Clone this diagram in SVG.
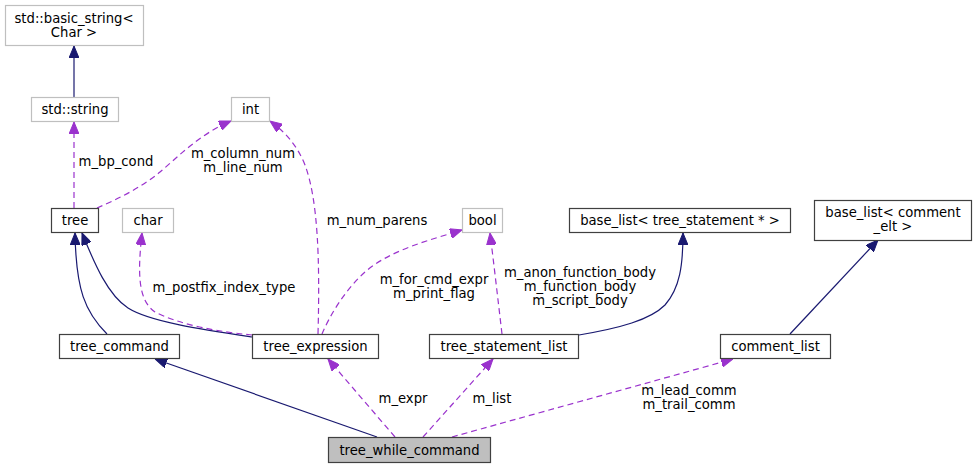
<svg xmlns="http://www.w3.org/2000/svg" width="977" height="469" viewBox="0 0 977 469">
<style>
text { font-family: "DejaVu Sans", "Liberation Sans", sans-serif; font-size: 13.2px; fill: #000; text-anchor: middle; }
.n rect { fill: #fff; stroke: #404040; stroke-width: 1.2; }
.g rect { fill: #fff; stroke: #bfbfbf; stroke-width: 1.2; }
.cur rect { fill: #bfbfbf; stroke: #404040; stroke-width: 1.2; }
.inh { fill: none; stroke: #191970; stroke-width: 1.2; marker-end: url(#ah-blue); }
.use { fill: none; stroke: #9a32cd; stroke-width: 1.2; stroke-dasharray: 6,4; marker-end: url(#ah-purple); }
</style>
<defs>
<marker id="ah-blue" markerUnits="userSpaceOnUse" viewBox="0 0 12 10" refX="12" refY="5" markerWidth="12" markerHeight="10" orient="auto">
<path d="M0,0 L12,5 L0,10 z" fill="#191970" stroke="#191970" stroke-width="1"/>
</marker>
<marker id="ah-purple" markerUnits="userSpaceOnUse" viewBox="0 0 12 10" refX="12" refY="5" markerWidth="12" markerHeight="10" orient="auto">
<path d="M0,0 L12,5 L0,10 z" fill="#9a32cd" stroke="#9a32cd" stroke-width="1"/>
</marker>
</defs>
<rect width="977" height="469" fill="#fff"/>

<g id="edges">
<path class="inh" d="M74,97 L74,46"/>
<path class="use" d="M74,208 L74,122"/>
<path class="use" d="M97,208 C118,199 142,187 160,172 C180,155 200,134 231,121"/>
<path class="use" d="M318,334 C320,260 318,200 305,165 C297,145 285,132 270,121"/>
<path class="use" d="M322,334 C330,315 345,290 365,272 C390,250 430,240 462,230"/>
<path class="inh" d="M252,337 C205,330 150,322 128,308 C108,295 95,265 82,233"/>
<path class="inh" d="M107,334 C85,312 76,290 75,233"/>
<path class="use" d="M252,335 C220,332 180,325 155,312 C137,300 138,270 142,233"/>
<path class="use" d="M502,334 C498,300 494,265 490,233"/>
<path class="inh" d="M579,335 C620,328 650,320 665,305 C680,288 683,265 683,233"/>
<path class="inh" d="M790,334 L878,240"/>
<path class="inh" d="M377,437 L155,359"/>
<path class="use" d="M395,437 L328,359"/>
<path class="use" d="M423,437 L493,359"/>
<path class="use" d="M452,437 C520,418 640,385 733,359"/>
<text x="116" y="165.5">m_bp_cond</text>
<text x="243" y="157.5">m_column_num</text>
<text x="243" y="171.5">m_line_num</text>
<text x="377" y="224.5">m_num_parens</text>
<text x="224" y="291.5">m_postfix_index_type</text>
<text x="434" y="283.5">m_for_cmd_expr</text>
<text x="434" y="297.5">m_print_flag</text>
<text x="580" y="276.5">m_anon_function_body</text>
<text x="580" y="290.5">m_function_body</text>
<text x="580" y="304.5">m_script_body</text>
<text x="403" y="402.5">m_expr</text>
<text x="492" y="402.5">m_list</text>
<text x="689" y="394.5">m_lead_comm</text>
<text x="689" y="408.5">m_trail_comm</text>
</g>

<g id="node-basic_string" class="g"><rect x="5.5" y="5.5" width="138" height="40"/><text x="74" y="22.5">std::basic_string&lt;</text><text x="74" y="36.5">Char &gt;</text></g>
<g id="node-std_string" class="g"><rect x="31.5" y="97.5" width="87" height="24"/><text x="75" y="114">std::string</text></g>
<g id="node-int" class="g"><rect x="231.5" y="97.5" width="38" height="24"/><text x="250.5" y="114">int</text></g>
<g id="node-tree" class="n"><rect x="51.5" y="208.5" width="47" height="24"/><text x="75" y="225">tree</text></g>
<g id="node-char" class="g"><rect x="122.5" y="208.5" width="51" height="24"/><text x="148" y="225">char</text></g>
<g id="node-bool" class="g"><rect x="462.5" y="208.5" width="40" height="24"/><text x="482.5" y="225">bool</text></g>
<g id="node-base_list_stmt" class="n"><rect x="569.5" y="208.5" width="221" height="24"/><text x="680" y="225">base_list&lt; tree_statement * &gt;</text></g>
<g id="node-base_list_comment" class="n"><rect x="814.5" y="200.5" width="157" height="40"/><text x="893" y="216.5">base_list&lt; comment</text><text x="893" y="230.5">_elt &gt;</text></g>
<g id="node-tree_command" class="n"><rect x="59.5" y="334.5" width="120" height="24"/><text x="119.5" y="351">tree_command</text></g>
<g id="node-tree_expression" class="n"><rect x="252.5" y="334.5" width="126" height="24"/><text x="315.5" y="351">tree_expression</text></g>
<g id="node-tree_statement_list" class="n"><rect x="429.5" y="334.5" width="149" height="24"/><text x="504" y="351">tree_statement_list</text></g>
<g id="node-comment_list" class="n"><rect x="720.5" y="334.5" width="110" height="24"/><text x="775.5" y="351">comment_list</text></g>
<g id="node-tree_while_command" class="cur"><rect x="328.5" y="437.5" width="162" height="25"/><text x="409.5" y="455">tree_while_command</text></g>
</svg>
